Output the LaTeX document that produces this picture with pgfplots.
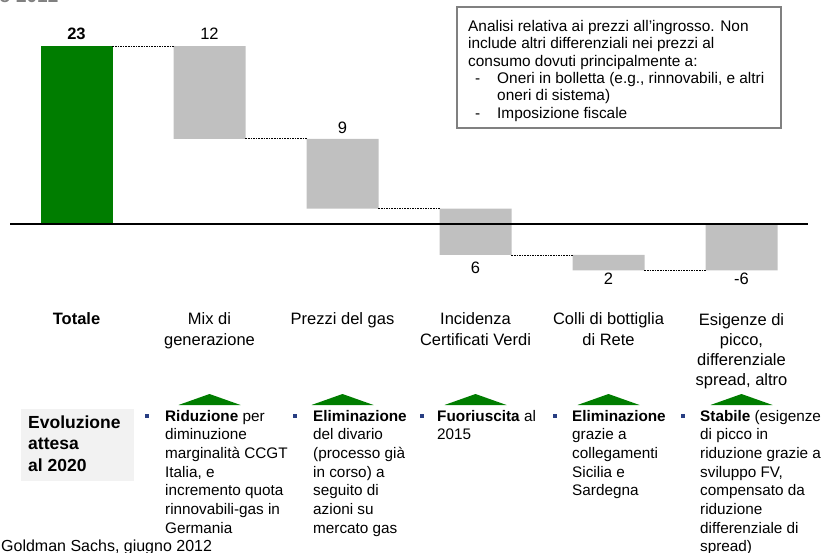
\documentclass[border=0pt]{standalone}
\usepackage{fontspec}
\setmainfont{Liberation Sans}
\usepackage{pgfplots}
\pgfplotsset{compat=1.18}
\usepackage{pgfplotstable}
\definecolor{barGreen}{RGB}{0,125,0}
\definecolor{barGray}{RGB}{192,192,192}
\definecolor{bulletBlue}{RGB}{40,62,130}
\definecolor{boxGray}{RGB}{242,242,242}
\definecolor{frameGray}{RGB}{128,128,128}
\definecolor{titleGray}{RGB}{128,128,128}

% waterfall: invisible base, green total, gray deltas
\pgfplotstableread{
x base total delta
0 0 23 0
1 11 0 12
2 2 0 9
3 -4 0 6
4 -6 0 2
5 -6 0 6
}\wfdata

\pgfplotsset{wf/.style={at={(10pt,250.6pt)}, anchor=south west, scale only axis,
  width=798pt, height=278.6pt, xmin=-0.5, xmax=5.5, ymin=-10, ymax=26,
  hide axis, clip=false},
  connector/.style={black, line width=0.8pt, dash pattern=on 1.6pt off 1pt}}

\newcommand{\catfont}{\fontsize{16.5}{20}\selectfont}
\newcommand{\bulfont}{\fontsize{15.3}{18.7}\selectfont}
\newcommand{\boxfont}{\fontsize{15.4}{17.3}\selectfont}

\begin{document}
\begin{tikzpicture}[x=1pt,y=1pt]
\useasboundingbox (0,0) rectangle (824,552);

\begin{axis}[wf, ybar stacked, stack negative=on previous, bar width=72pt]
\addplot[draw=none, fill=none] table[x=x,y=base]{\wfdata};
\addplot[draw=none, fill=barGreen] table[x=x,y=total]{\wfdata};
\addplot[draw=none, fill=barGray] table[x=x,y=delta]{\wfdata};
\end{axis}

\begin{axis}[wf]
\addplot[black, line width=1.3pt] coordinates {(-0.5,0) (5.5,0)};
\addplot[connector] coordinates {(0.27,23) (0.73,23)};
\addplot[connector] coordinates {(1.27,11) (1.73,11)};
\addplot[connector] coordinates {(2.27,2) (2.73,2)};
\addplot[connector] coordinates {(3.27,-4) (3.73,-4)};
\addplot[connector] coordinates {(4.27,-6) (4.73,-6)};
\node[anchor=base, inner sep=0, font=\catfont\bfseries] at ([yshift=7pt]axis cs:0,23) {23};
\node[anchor=base, inner sep=0, font=\catfont] at ([yshift=7pt]axis cs:1,23) {12};
\node[anchor=base, inner sep=0, font=\catfont] at ([yshift=5.5pt]axis cs:2,11) {9};
\node[anchor=base, inner sep=0, font=\catfont] at ([yshift=-18.7pt]axis cs:3,-4) {6};
\node[anchor=base, inner sep=0, font=\catfont] at ([yshift=-13.9pt]axis cs:4,-6) {2};
\node[anchor=base, inner sep=0, font=\catfont] at ([yshift=-13.9pt]axis cs:5,-6) {-6};
\end{axis}

% partial title at top-left
\node[anchor=base west, inner sep=0, font=\fontsize{19}{22}\selectfont\bfseries, text=titleGray] at (-1,549) {o 2012};

% note box
\draw[frameGray, line width=1.5pt, fill=white] (457,424) rectangle (781,545);
\begin{scope}[every node/.style={anchor=base west, inner sep=0, font=\boxfont}]
\node at (468,520.3) {Analisi relativa ai prezzi all’ingrosso. Non};
\node at (468,503.0) {include altri differenziali nei prezzi al};
\node at (468,485.7) {consumo dovuti principalmente a:};
\node at (475,468.4) {-};
\node at (497,468.4) {Oneri in bolletta (e.g., rinnovabili, e altri};
\node at (497,451.1) {oneri di sistema)};
\node at (475,433.8) {-};
\node at (497,433.8) {Imposizione fiscale};
\end{scope}

% category labels (anchor = baseline of the LAST line)
\begin{scope}[every node/.style={anchor=base, inner sep=0, align=center, font=\catfont}]
\node[font=\catfont\bfseries] at (76.5,227) {Totale};
\node at (209.5,207) {Mix di\\generazione};
\node at (342.5,227) {Prezzi del gas};
\node at (475.5,207) {Incidenza\\Certificati Verdi};
\node at (608.5,207) {Colli di bottiglia\\di Rete};
\node at (741.5,167) {Esigenze di\\picco,\\differenziale\\spread, altro};
\end{scope}

% green up-triangles
\foreach \cx in {209.5,342.5,475.5,608.5,741.5}{
  \fill[barGreen] (\cx-31,147) -- (\cx,158) -- (\cx+31,147) -- cycle;
}

% left label box
\fill[boxGray] (21,71) rectangle (134,143);
\begin{scope}[every node/.style={anchor=base west, inner sep=0, font=\fontsize{17.5}{21.5}\selectfont\bfseries}]
\node at (28,124) {Evoluzione};
\node at (28,102.5) {attesa};
\node at (28,81) {al 2020};
\end{scope}

% bullets
\foreach \bx in {147,295,422,555,683}{
  \fill[bulletBlue] (\bx-2.2,133.8) rectangle (\bx+2.2,138.2);
}
% bullet texts (anchor = baseline of the LAST line; first line baseline at 131)
\begin{scope}[every node/.style={anchor=base west, inner sep=0, align=left, font=\bulfont}]
\node at (165,18.8) {\textbf{Riduzione} per\\diminuzione\\marginalità CCGT\\Italia, e\\incremento quota\\rinnovabili-gas in\\Germania};
\node at (313,18.8) {\textbf{Eliminazione}\\del divario\\(processo già\\in corso) a\\seguito di\\azioni su\\mercato gas};
\node at (437,112.3) {\textbf{Fuoriuscita} al\\2015};
\node at (572,56.2) {\textbf{Eliminazione}\\grazie a\\collegamenti\\Sicilia e\\Sardegna};
\node at (700,0.1) {\textbf{Stabile} (esigenze\\di picco in\\riduzione grazie a\\sviluppo FV,\\compensato da\\riduzione\\differenziale di\\spread)};
\end{scope}

% source
\node[anchor=base west, inner sep=0, font=\fontsize{16}{18}\selectfont] at (1,0.5) {Goldman Sachs, giugno 2012};
\end{tikzpicture}
\end{document}
